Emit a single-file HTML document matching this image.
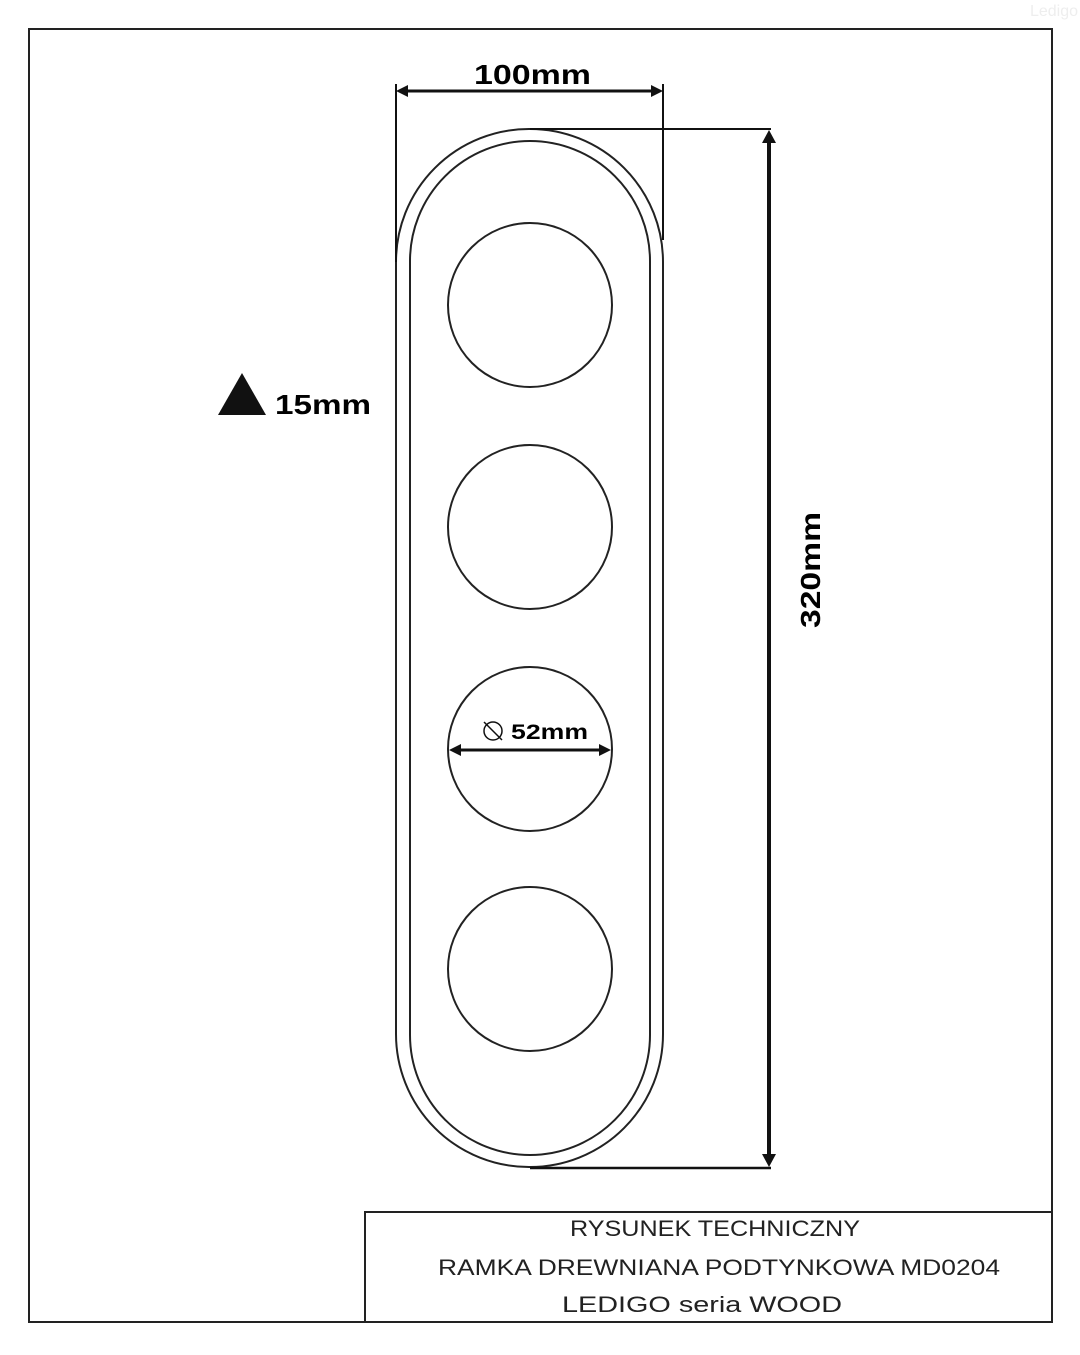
<!DOCTYPE html>
<html><head><meta charset="utf-8"><style>
html,body{margin:0;padding:0;background:#fff;}
body{width:1080px;height:1350px;overflow:hidden;}
</style></head><body>
<svg width="1080" height="1350" viewBox="0 0 1080 1350" xmlns="http://www.w3.org/2000/svg" font-family="Liberation Sans, sans-serif">
<rect x="29" y="29" width="1023" height="1293" fill="none" stroke="#222" stroke-width="2"/>
<text x="1078" y="16" font-size="16" fill="#eee" text-anchor="end">Ledigo</text>
<rect x="396" y="129" width="267" height="1038" rx="133" ry="133" fill="none" stroke="#222" stroke-width="2"/>
<rect x="410" y="141" width="240" height="1014" rx="120" ry="120" fill="none" stroke="#222" stroke-width="2"/>
<g fill="none" stroke="#222" stroke-width="2">
<circle cx="530" cy="305" r="82"/>
<circle cx="530" cy="527" r="82"/>
<circle cx="530" cy="749" r="82"/>
<circle cx="530" cy="969" r="82"/>
</g>
<line x1="396" y1="84" x2="396" y2="262" stroke="#111" stroke-width="2"/>
<line x1="663" y1="84" x2="663" y2="240" stroke="#111" stroke-width="2"/>
<line x1="404" y1="91" x2="655" y2="91" stroke="#111" stroke-width="3"/>
<polygon points="396,91 408,85 408,97" fill="#111"/>
<polygon points="663,91 651,85 651,97" fill="#111"/>
<text x="474" y="84" font-size="28" font-weight="bold" textLength="117" lengthAdjust="spacingAndGlyphs">100mm</text>
<line x1="530" y1="129" x2="771" y2="129" stroke="#111" stroke-width="2"/>
<line x1="530" y1="1168" x2="771" y2="1168" stroke="#111" stroke-width="2.5"/>
<line x1="769" y1="140" x2="769" y2="1156" stroke="#111" stroke-width="4"/>
<polygon points="769,130 762,143 776,143" fill="#111"/>
<polygon points="769,1167 762,1154 776,1154" fill="#111"/>
<text transform="translate(820,628) rotate(-90)" font-size="28" font-weight="bold" textLength="116" lengthAdjust="spacingAndGlyphs">320mm</text>
<polygon points="242,373 218,415 266,415" fill="#111"/>
<text x="275" y="414" font-size="28" font-weight="bold" textLength="96" lengthAdjust="spacingAndGlyphs">15mm</text>
<line x1="456" y1="750" x2="604" y2="750" stroke="#111" stroke-width="3"/>
<polygon points="449,750 461,744 461,756" fill="#111"/>
<polygon points="611,750 599,744 599,756" fill="#111"/>
<circle cx="493" cy="731" r="9" fill="none" stroke="#111" stroke-width="1.5"/>
<line x1="484" y1="722" x2="502" y2="740" stroke="#111" stroke-width="1.5"/>
<text x="511" y="739" font-size="21" font-weight="bold" textLength="77" lengthAdjust="spacingAndGlyphs">52mm</text>
<rect x="365" y="1212" width="687" height="110" fill="none" stroke="#222" stroke-width="2"/>
<g font-size="22" fill="#222">
<text x="570" y="1236" textLength="290" lengthAdjust="spacingAndGlyphs">RYSUNEK TECHNICZNY</text>
<text x="438" y="1275" textLength="562" lengthAdjust="spacingAndGlyphs">RAMKA DREWNIANA PODTYNKOWA MD0204</text>
<text x="562" y="1312" textLength="280" lengthAdjust="spacingAndGlyphs">LEDIGO seria WOOD</text>
</g>
</svg>
</body></html>
